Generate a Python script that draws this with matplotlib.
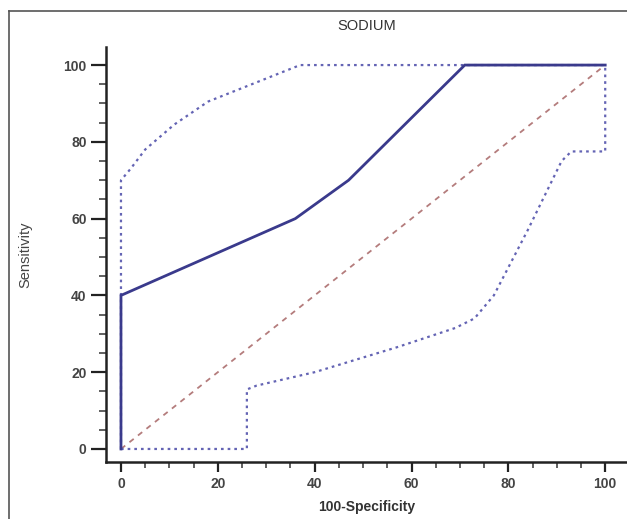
import matplotlib
matplotlib.use("Agg")
import matplotlib.pyplot as plt
from matplotlib.lines import Line2D
from matplotlib.ticker import MultipleLocator

# ROC curve for sodium
roc_x = [0, 0, 36, 47, 71, 100]
roc_y = [0, 40, 60, 70, 100, 100]

# upper confidence bound
upper_x = [0, 0, 2, 5, 11, 18, 28, 37, 100]
upper_y = [0, 70, 73, 78, 84.5, 90.5, 95.5, 100, 100]

# lower confidence bound
lower_x = [0, 26, 26, 28, 40, 57, 69, 73, 77, 84, 91, 93, 100, 100]
lower_y = [0, 0, 15.5, 16.5, 20, 26.5, 31.5, 34, 40, 57, 75, 77.5, 77.5, 100]

# reference diagonal
diag = [0, 100]

plt.rcParams['font.family'] = ['Liberation Sans', 'DejaVu Sans']

fig = plt.figure(figsize=(6.27, 5.19), dpi=100)
ax = fig.add_axes([0.169, 0.1098, 0.831, 0.7996])

ax.plot(diag, diag, linestyle=(0, (3, 3)), color='#b47c7c', linewidth=1.3)
ax.plot(upper_x, upper_y, linestyle=(0, (1.2, 1.8)), color='#6464b4', linewidth=1.6)
ax.plot(lower_x, lower_y, linestyle=(0, (1.2, 1.8)), color='#6464b4', linewidth=1.6)
ax.plot(roc_x, roc_y, color='#3a3a8c', linewidth=2.0, solid_joinstyle='miter')

ax.set_xlim(-3.1, 104.5)
ax.set_ylim(-3.4, 104.7)

ax.xaxis.set_major_locator(MultipleLocator(20))
ax.xaxis.set_minor_locator(MultipleLocator(5))
ax.yaxis.set_major_locator(MultipleLocator(20))
ax.yaxis.set_minor_locator(MultipleLocator(5))

for s in ['top', 'right']:
    ax.spines[s].set_visible(False)
for s in ['left', 'bottom']:
    ax.spines[s].set_linewidth(1.8)
    ax.spines[s].set_color('#222222')

ax.tick_params(axis='y', which='major', direction='out', length=11, width=1.6,
               color='#222222', labelsize=10, labelcolor='#444444', pad=3)
ax.tick_params(axis='y', which='minor', direction='out', length=5, width=1.2, color='#444444')
ax.tick_params(axis='x', which='major', direction='out', length=7, width=1.6,
               color='#222222', labelsize=10, labelcolor='#444444', pad=4)
ax.tick_params(axis='x', which='minor', direction='out', length=4, width=1.2, color='#444444')
for lab in ax.get_xticklabels() + ax.get_yticklabels():
    lab.set_fontweight('bold')

ax.set_title('SODIUM', fontsize=10.5, color='#333333', pad=12)
ax.set_xlabel('100-Specificity', fontsize=10, color='#333333', labelpad=6, fontweight='bold')
ax.set_ylabel('Sensitivity', fontsize=10.5, color='#444444', labelpad=22)

# outer frame (left and top edges visible)
fig.add_artist(Line2D([9 / 627, 9 / 627], [0, 1 - 11 / 519], transform=fig.transFigure,
                      color='#555555', linewidth=1.2))
fig.add_artist(Line2D([9 / 627, 1], [1 - 11 / 519, 1 - 11 / 519], transform=fig.transFigure,
                      color='#555555', linewidth=1.2))

fig.savefig('out.png', dpi=100)
